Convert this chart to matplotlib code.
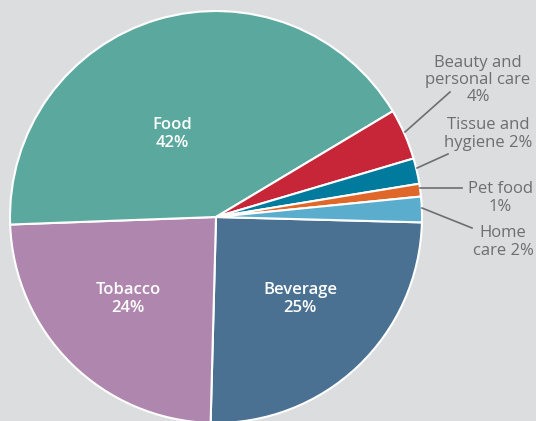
import numpy as np
import matplotlib
matplotlib.use("Agg")
import matplotlib.pyplot as plt

plt.rcParams["font.family"] = ["Open Sans", "DejaVu Sans"]

# segment shares, clockwise from the right-hand horizontal
segments = ["Beverage", "Tobacco", "Food", "Beauty and\npersonal care",
            "Tissue and\nhygiene", "Pet food", "Home\ncare"]
shares = [25, 24, 42, 4, 2, 1, 2]
colors = ["#4a7191", "#af86ae", "#5ba99e", "#c72538", "#007a9d", "#e0672a", "#5badcd"]

inside_text = ["Beverage\n25%", "Tobacco\n24%", "Food\n42%"]
outside_text = ["Beauty and\npersonal care\n4%", "Tissue and\nhygiene 2%",
                "Pet food\n1%", "Home\ncare 2%"]

BG = "#dcddde"
GREY = "#6d6e71"
W, H = 536, 421
R = 206.0          # pie radius in pixels
CX, CY = 216, 217  # pie centre in pixels

def px(x, y):
    return (x - CX) / R, (CY - y) / R

fig = plt.figure(figsize=(W / 100, H / 100), dpi=100, facecolor=BG)
ax = fig.add_axes([0, 0, 1, 1])
ax.set_facecolor(BG)
ax.pie(shares, colors=colors, startangle=-1.5, counterclock=False, radius=1,
       wedgeprops=dict(edgecolor="white", linewidth=1.5))
ax.set_xlim(-CX / R, (W - CX) / R)
ax.set_ylim(-(H - CY) / R, CY / R)
ax.axis("off")

# labels inside the large wedges
for txt, (x, y) in zip(inside_text, [(300, 299), (128, 299), (172, 134)]):
    ax.text(*px(x, y), txt, color="white", fontsize=12, fontweight="semibold",
            ha="center", va="center", linespacing=1.2)

# labels and leader lines for the small wedges
text_pos = [(478, 80), (488, 134), (500, 198), (503, 242)]
leaders = [((405, 132), (450, 92)), ((417, 168), (448, 154)),
           ((420, 188), (462, 188)), ((422, 208), (472, 228))]
for txt, (x, y), (p0, p1) in zip(outside_text, text_pos, leaders):
    ax.text(*px(x, y), txt, color=GREY, fontsize=12, ha="center", va="center",
            linespacing=1.1)
    (x0, y0), (x1, y1) = px(*p0), px(*p1)
    ax.plot([x0, x1], [y0, y1], color=GREY, lw=1.2)

fig.savefig("out.png", dpi=100, facecolor=BG)
